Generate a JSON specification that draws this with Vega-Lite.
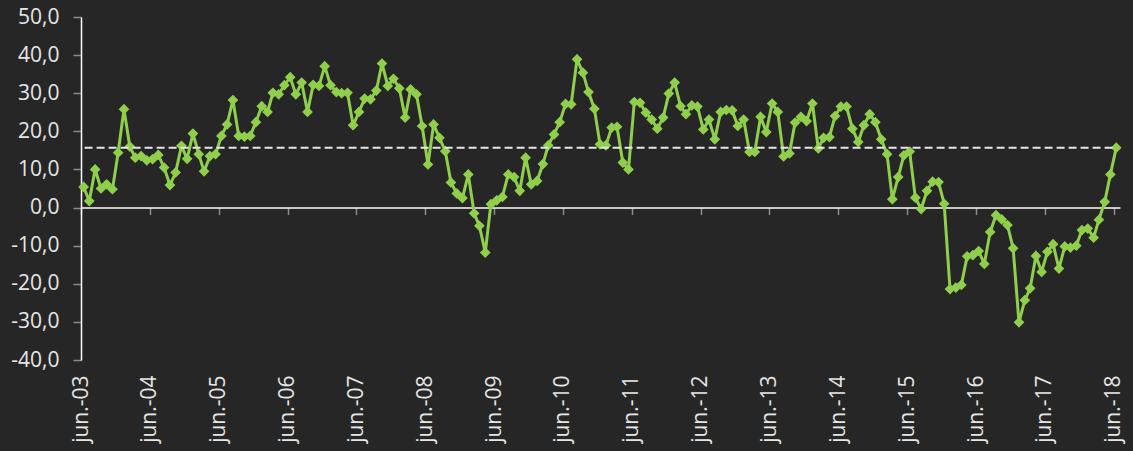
{
  "$schema": "https://vega.github.io/schema/vega-lite/v6.json",
  "width": 1039,
  "height": 343,
  "autosize": {"type": "none"},
  "padding": {"left": 81, "top": 17, "right": 13, "bottom": 91},
  "background": "#262626",
  "config": {"view": {"stroke": null}, "font": "Open Sans"},
  "datasets": {
    "series": [
      {"m": "2003-06-15", "v": 5.4}, {"m": "2003-07-15", "v": 1.7}, {"m": "2003-08-15", "v": 10.0}, {"m": "2003-09-15", "v": 5.0}, {"m": "2003-10-15", "v": 6.1}, {"m": "2003-11-15", "v": 4.8}, {"m": "2003-12-15", "v": 14.4},
      {"m": "2004-01-15", "v": 25.8}, {"m": "2004-02-15", "v": 16.0}, {"m": "2004-03-15", "v": 13.1}, {"m": "2004-04-15", "v": 13.5}, {"m": "2004-05-15", "v": 12.4}, {"m": "2004-06-15", "v": 12.7}, {"m": "2004-07-15", "v": 13.8}, {"m": "2004-08-15", "v": 10.5}, {"m": "2004-09-15", "v": 5.9}, {"m": "2004-10-15", "v": 9.2}, {"m": "2004-11-15", "v": 16.2}, {"m": "2004-12-15", "v": 12.8},
      {"m": "2005-01-15", "v": 19.4}, {"m": "2005-02-15", "v": 14.0}, {"m": "2005-03-15", "v": 9.5}, {"m": "2005-04-15", "v": 13.5}, {"m": "2005-05-15", "v": 14.0}, {"m": "2005-06-15", "v": 18.8}, {"m": "2005-07-15", "v": 21.8}, {"m": "2005-08-15", "v": 28.2}, {"m": "2005-09-15", "v": 18.8}, {"m": "2005-10-15", "v": 18.6}, {"m": "2005-11-15", "v": 18.8}, {"m": "2005-12-15", "v": 22.4},
      {"m": "2006-01-15", "v": 26.6}, {"m": "2006-02-15", "v": 25.1}, {"m": "2006-03-15", "v": 30.1}, {"m": "2006-04-15", "v": 29.7}, {"m": "2006-05-15", "v": 32.1}, {"m": "2006-06-15", "v": 34.2}, {"m": "2006-07-15", "v": 29.7}, {"m": "2006-08-15", "v": 32.8}, {"m": "2006-09-15", "v": 25.1}, {"m": "2006-10-15", "v": 32.2}, {"m": "2006-11-15", "v": 31.9}, {"m": "2006-12-15", "v": 37.1},
      {"m": "2007-01-15", "v": 32.1}, {"m": "2007-02-15", "v": 30.3}, {"m": "2007-03-15", "v": 30.0}, {"m": "2007-04-15", "v": 30.1}, {"m": "2007-05-15", "v": 21.6}, {"m": "2007-06-15", "v": 25.1}, {"m": "2007-07-15", "v": 28.6}, {"m": "2007-08-15", "v": 28.4}, {"m": "2007-09-15", "v": 30.7}, {"m": "2007-10-15", "v": 37.8}, {"m": "2007-11-15", "v": 31.9}, {"m": "2007-12-15", "v": 33.8},
      {"m": "2008-01-15", "v": 31.3}, {"m": "2008-02-15", "v": 23.6}, {"m": "2008-03-15", "v": 31.0}, {"m": "2008-04-15", "v": 29.7}, {"m": "2008-05-15", "v": 21.4}, {"m": "2008-06-15", "v": 11.3}, {"m": "2008-07-15", "v": 21.8}, {"m": "2008-08-15", "v": 18.3}, {"m": "2008-09-15", "v": 14.8}, {"m": "2008-10-15", "v": 6.6}, {"m": "2008-11-15", "v": 3.7}, {"m": "2008-12-15", "v": 2.5},
      {"m": "2009-01-15", "v": 8.7}, {"m": "2009-02-15", "v": -1.5}, {"m": "2009-03-15", "v": -4.8}, {"m": "2009-04-15", "v": -11.8}, {"m": "2009-05-15", "v": 0.9}, {"m": "2009-06-15", "v": 1.9}, {"m": "2009-07-15", "v": 2.8}, {"m": "2009-08-15", "v": 8.7}, {"m": "2009-09-15", "v": 8.0}, {"m": "2009-10-15", "v": 4.4}, {"m": "2009-11-15", "v": 13.1}, {"m": "2009-12-15", "v": 6.1},
      {"m": "2010-01-15", "v": 7.0}, {"m": "2010-02-15", "v": 11.4}, {"m": "2010-03-15", "v": 16.3}, {"m": "2010-04-15", "v": 19.2}, {"m": "2010-05-15", "v": 22.4}, {"m": "2010-06-15", "v": 27.2}, {"m": "2010-07-15", "v": 27.1}, {"m": "2010-08-15", "v": 38.9}, {"m": "2010-09-15", "v": 35.4}, {"m": "2010-10-15", "v": 30.3}, {"m": "2010-11-15", "v": 25.9}, {"m": "2010-12-15", "v": 16.6},
      {"m": "2011-01-15", "v": 16.3}, {"m": "2011-02-15", "v": 21.0}, {"m": "2011-03-15", "v": 21.2}, {"m": "2011-04-15", "v": 11.8}, {"m": "2011-05-15", "v": 10.0}, {"m": "2011-06-15", "v": 27.7}, {"m": "2011-07-15", "v": 27.5}, {"m": "2011-08-15", "v": 24.9}, {"m": "2011-09-15", "v": 23.1}, {"m": "2011-10-15", "v": 20.7}, {"m": "2011-11-15", "v": 23.6}, {"m": "2011-12-15", "v": 29.9},
      {"m": "2012-01-15", "v": 32.8}, {"m": "2012-02-15", "v": 26.6}, {"m": "2012-03-15", "v": 24.5}, {"m": "2012-04-15", "v": 26.8}, {"m": "2012-05-15", "v": 26.5}, {"m": "2012-06-15", "v": 20.5}, {"m": "2012-07-15", "v": 23.1}, {"m": "2012-08-15", "v": 17.9}, {"m": "2012-09-15", "v": 25.1}, {"m": "2012-10-15", "v": 25.6}, {"m": "2012-11-15", "v": 25.5}, {"m": "2012-12-15", "v": 21.4},
      {"m": "2013-01-15", "v": 23.1}, {"m": "2013-02-15", "v": 14.6}, {"m": "2013-03-15", "v": 14.6}, {"m": "2013-04-15", "v": 23.8}, {"m": "2013-05-15", "v": 19.8}, {"m": "2013-06-15", "v": 27.3}, {"m": "2013-07-15", "v": 25.1}, {"m": "2013-08-15", "v": 13.4}, {"m": "2013-09-15", "v": 14.2}, {"m": "2013-10-15", "v": 22.3}, {"m": "2013-11-15", "v": 23.8}, {"m": "2013-12-15", "v": 22.7},
      {"m": "2014-01-15", "v": 27.3}, {"m": "2014-02-15", "v": 15.5}, {"m": "2014-03-15", "v": 18.3}, {"m": "2014-04-15", "v": 18.5}, {"m": "2014-05-15", "v": 24.0}, {"m": "2014-06-15", "v": 26.5}, {"m": "2014-07-15", "v": 26.5}, {"m": "2014-08-15", "v": 20.7}, {"m": "2014-09-15", "v": 17.2}, {"m": "2014-10-15", "v": 21.6}, {"m": "2014-11-15", "v": 24.5}, {"m": "2014-12-15", "v": 22.4},
      {"m": "2015-01-15", "v": 17.9}, {"m": "2015-02-15", "v": 14.0}, {"m": "2015-03-15", "v": 2.2}, {"m": "2015-04-15", "v": 8.0}, {"m": "2015-05-15", "v": 13.7}, {"m": "2015-06-15", "v": 14.7}, {"m": "2015-07-15", "v": 2.6}, {"m": "2015-08-15", "v": -0.4}, {"m": "2015-09-15", "v": 4.4}, {"m": "2015-10-15", "v": 6.8}, {"m": "2015-11-15", "v": 6.7}, {"m": "2015-12-15", "v": 1.0},
      {"m": "2016-01-15", "v": -21.4}, {"m": "2016-02-15", "v": -21.0}, {"m": "2016-03-15", "v": -20.3}, {"m": "2016-04-15", "v": -12.8}, {"m": "2016-05-15", "v": -12.5}, {"m": "2016-06-15", "v": -11.4}, {"m": "2016-07-15", "v": -14.8}, {"m": "2016-08-15", "v": -6.4}, {"m": "2016-09-15", "v": -2.0}, {"m": "2016-10-15", "v": -3.1}, {"m": "2016-11-15", "v": -4.6}, {"m": "2016-12-15", "v": -10.7},
      {"m": "2017-01-15", "v": -30.1}, {"m": "2017-02-15", "v": -24.3}, {"m": "2017-03-15", "v": -21.2}, {"m": "2017-04-15", "v": -12.7}, {"m": "2017-05-15", "v": -16.9}, {"m": "2017-06-15", "v": -11.6}, {"m": "2017-07-15", "v": -9.6}, {"m": "2017-08-15", "v": -16.0}, {"m": "2017-09-15", "v": -10.2}, {"m": "2017-10-15", "v": -10.5}, {"m": "2017-11-15", "v": -10.0}, {"m": "2017-12-15", "v": -5.9},
      {"m": "2018-01-15", "v": -5.5}, {"m": "2018-02-15", "v": -7.9}, {"m": "2018-03-15", "v": -3.2}, {"m": "2018-04-15", "v": 1.5}, {"m": "2018-05-15", "v": 8.7}, {"m": "2018-06-15", "v": 15.7}
    ],
    "avg": [{"start": "2003-06-20", "end": "2018-06-15", "v": 15.7}]
  },
  "layer": [
    {
      "data": {"name": "series"},
      "mark": {"type": "line", "color": "#8fcf4b", "strokeWidth": 3, "point": {"shape": "diamond", "size": 115, "filled": true, "color": "#8fcf4b", "opacity": 1}},
      "encoding": {
        "x": {
          "field": "m", "type": "temporal",
          "scale": {"type": "utc", "domain": [{"year": 2003, "month": 6, "date": 1, "utc": true}, {"year": 2018, "month": 7, "date": 5, "utc": true}]},
          "axis": {
            "orient": "bottom", "offset": -152.4, "labels": false, "title": null, "grid": false,
            "domain": true, "domainColor": "#ffffff", "domainWidth": 1.5,
            "ticks": true, "tickColor": "#8c8c8c", "tickWidth": 1.5, "tickSize": 7,
            "values": [
              {"year": 2003, "month": 6, "date": 1, "utc": true}, {"year": 2004, "month": 6, "date": 1, "utc": true}, {"year": 2005, "month": 6, "date": 1, "utc": true}, {"year": 2006, "month": 6, "date": 1, "utc": true},
              {"year": 2007, "month": 6, "date": 1, "utc": true}, {"year": 2008, "month": 6, "date": 1, "utc": true}, {"year": 2009, "month": 6, "date": 1, "utc": true}, {"year": 2010, "month": 6, "date": 1, "utc": true},
              {"year": 2011, "month": 6, "date": 1, "utc": true}, {"year": 2012, "month": 6, "date": 1, "utc": true}, {"year": 2013, "month": 6, "date": 1, "utc": true}, {"year": 2014, "month": 6, "date": 1, "utc": true},
              {"year": 2015, "month": 6, "date": 1, "utc": true}, {"year": 2016, "month": 6, "date": 1, "utc": true}, {"year": 2017, "month": 6, "date": 1, "utc": true}, {"year": 2018, "month": 6, "date": 1, "utc": true}
            ]
          }
        },
        "y": {
          "field": "v", "type": "quantitative",
          "scale": {"domain": [-40, 50], "nice": false, "zero": false},
          "axis": {
            "title": null, "grid": false, "values": [-40, -30, -20, -10, 0, 10, 20, 30, 40, 50],
            "labelExpr": "replace(replace(format(datum.value, '.1f'), '.', ','), '−', '-')",
            "labelOverlap": false,
            "domainColor": "#ffffff", "domainWidth": 1.5,
            "tickColor": "#8c8c8c", "tickWidth": 1.5, "tickSize": 8,
            "labelPadding": 14, "labelFontSize": 21, "labelColor": "#e6e6e6", "labelFont": "Open Sans"
          }
        }
      }
    },
    {
      "data": {"name": "avg"},
      "mark": {"type": "rule", "color": "#e6e6e6", "strokeWidth": 2, "strokeDash": [8, 4]},
      "encoding": {
        "x": {
          "field": "start", "type": "temporal",
          "axis": {
            "orient": "bottom", "title": null, "grid": false, "domain": false, "ticks": false,
            "labelAngle": -90, "labelAlign": "right", "labelBaseline": "middle", "labelPadding": 15,
            "labelFontSize": 21, "labelColor": "#e6e6e6", "labelFont": "Open Sans", "labelOverlap": false,
            "labelExpr": "'jun.-' + utcFormat(datum.value, '%y')",
            "values": [
              {"year": 2003, "month": 6, "date": 1, "utc": true}, {"year": 2004, "month": 6, "date": 1, "utc": true}, {"year": 2005, "month": 6, "date": 1, "utc": true}, {"year": 2006, "month": 6, "date": 1, "utc": true},
              {"year": 2007, "month": 6, "date": 1, "utc": true}, {"year": 2008, "month": 6, "date": 1, "utc": true}, {"year": 2009, "month": 6, "date": 1, "utc": true}, {"year": 2010, "month": 6, "date": 1, "utc": true},
              {"year": 2011, "month": 6, "date": 1, "utc": true}, {"year": 2012, "month": 6, "date": 1, "utc": true}, {"year": 2013, "month": 6, "date": 1, "utc": true}, {"year": 2014, "month": 6, "date": 1, "utc": true},
              {"year": 2015, "month": 6, "date": 1, "utc": true}, {"year": 2016, "month": 6, "date": 1, "utc": true}, {"year": 2017, "month": 6, "date": 1, "utc": true}, {"year": 2018, "month": 6, "date": 1, "utc": true}
            ]
          }
        },
        "x2": {"field": "end"},
        "y": {
          "field": "v", "type": "quantitative",
          "axis": {
            "title": null, "grid": false, "values": [-40, -30, -20, -10, 0, 10, 20, 30, 40, 50],
            "labelExpr": "replace(replace(format(datum.value, '.1f'), '.', ','), '−', '-')",
            "labelOverlap": false,
            "domainColor": "#ffffff", "domainWidth": 1.5,
            "tickColor": "#8c8c8c", "tickWidth": 1.5, "tickSize": 8,
            "labelPadding": 14, "labelFontSize": 21, "labelColor": "#e6e6e6", "labelFont": "Open Sans"
          }
        }
      }
    }
  ],
  "resolve": {"axis": {"x": "independent"}}
}
